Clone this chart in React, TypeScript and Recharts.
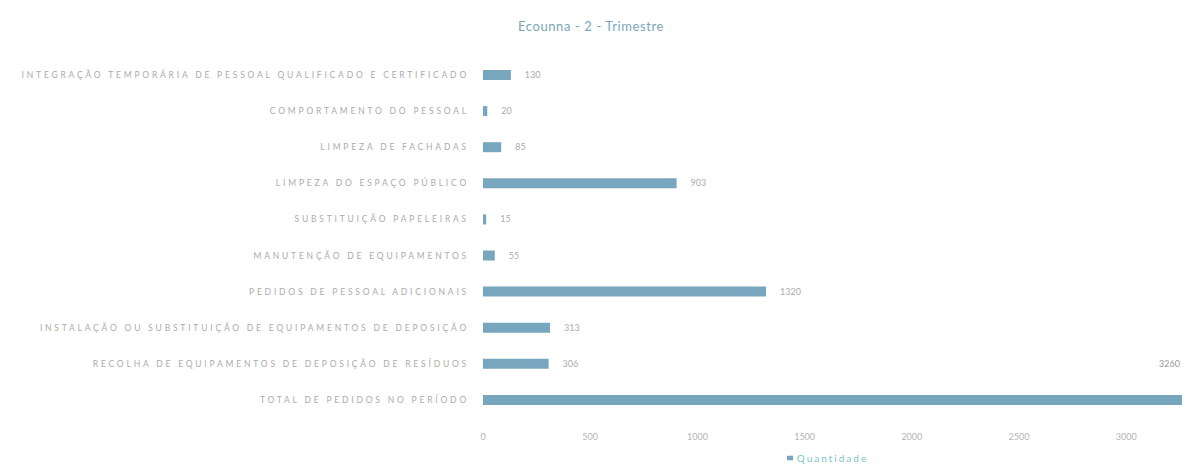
import { BarChart, Bar, XAxis, YAxis, Legend, LabelList } from "recharts";

const categories = [
  "INTEGRAÇÃO TEMPORÁRIA DE PESSOAL QUALIFICADO E CERTIFICADO",
  "COMPORTAMENTO DO PESSOAL",
  "LIMPEZA DE FACHADAS",
  "LIMPEZA DO ESPAÇO PÚBLICO",
  "SUBSTITUIÇÃO PAPELEIRAS",
  "MANUTENÇÃO DE EQUIPAMENTOS",
  "PEDIDOS DE PESSOAL ADICIONAIS",
  "INSTALAÇÃO OU SUBSTITUIÇÃO DE EQUIPAMENTOS DE DEPOSIÇÃO",
  "RECOLHA DE EQUIPAMENTOS DE DEPOSIÇÃO DE RESÍDUOS",
  "TOTAL DE PEDIDOS NO PERÍODO",
];
const quantidade = [130, 20, 85, 903, 15, 55, 1320, 313, 306, 3260];
const xTicks = [0, 500, 1000, 1500, 2000, 2500, 3000];

const data = categories.map((name, i) => ({ name, value: quantidade[i] }));

const W = 1182;
const H = 466;
const FONT = "Lato, 'Open Sans', sans-serif";

function CategoryTick(props: any) {
  const { x, y, payload } = props;
  return (
    <text x={x - 6} y={y} dy={3} textAnchor="end" fontSize={8.5} letterSpacing={2.8} fill="#ababab" fontFamily={FONT}>
      {payload.value}
    </text>
  );
}

function ValueLabel(props: any) {
  const { x, y, width, height, value } = props;
  const end = x + width;
  // no room on the right: put it above the bar's end
  if (end + 40 > W) {
    return (
      <text x={end - 2} y={y - 28} textAnchor="end" fontSize={9} fill="#999" fontFamily={FONT}>
        {value}
      </text>
    );
  }
  return (
    <text x={end + 14} y={y + height / 2} dy={3} fontSize={9} fill="#ababab" fontFamily={FONT}>
      {value}
    </text>
  );
}

export default function App() {
  return (
    <div style={{ position: "absolute", left: 0, top: 0, width: W, height: H, background: "#fff", fontFamily: FONT }}>
      <div style={{ position: "absolute", top: 18, width: W, textAlign: "center", fontSize: 13, color: "#7aa6ba", letterSpacing: 0.6 }}>
        Ecounna - 2 - Trimestre
      </div>
      <BarChart width={W} height={H} data={data} layout="vertical" margin={{ top: 57, right: 0, left: 0, bottom: 2 }} barCategoryGap={13}>
        <XAxis
          type="number"
          domain={[0, 3260]}
          ticks={xTicks}
          axisLine={false}
          tickLine={false}
          height={28}
          tickMargin={10}
          tick={{ fontSize: 9, fill: "#b4b4b4", fontFamily: FONT }}
        />
        <YAxis type="category" dataKey="name" width={483} axisLine={false} tickLine={false} tick={<CategoryTick />} interval={0} />
        <Legend
          verticalAlign="bottom"
          height={18}
          iconSize={6}
          wrapperStyle={{ left: 483, width: W - 483 }}
          formatter={(v: string) => <span style={{ color: "#7cc4c8", fontSize: 10, letterSpacing: 2 }}>{v}</span>}
        />
        <Bar dataKey="value" name="Quantidade" fill="#78a6bf" barSize={10} isAnimationActive={false}>
          <LabelList dataKey="value" content={<ValueLabel />} />
        </Bar>
      </BarChart>
    </div>
  );
}
